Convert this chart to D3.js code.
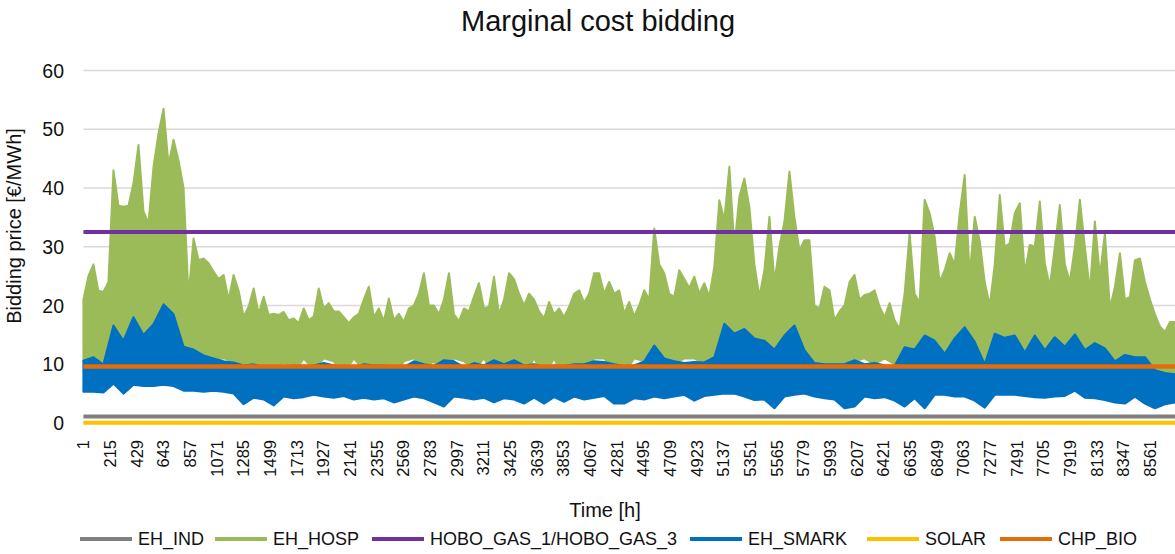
<!DOCTYPE html>
<html>
<head>
<meta charset="utf-8">
<script src="https://cdn.jsdelivr.net/npm/d3@7"></script>
<style>
body { margin: 0; background: #fff; }
text { font-family: "Liberation Sans", Arial, sans-serif; fill: #111; }
</style>
</head>
<body>
<div id="chart"></div>
<script>
const WIDTH = 1175;
const HEIGHT = 554;
const HOURS = 8760;

// category labels on the time axis (every 214th hour)
const tickHours = [1, 215, 429, 643, 857, 1071, 1285, 1499, 1713, 1927, 2141, 2355, 2569, 2783,
    2997, 3211, 3425, 3639, 3853, 4067, 4281, 4495, 4709, 4923, 5137, 5351, 5565, 5779, 5993,
    6207, 6421, 6635, 6849, 7063, 7277, 7491, 7705, 7919, 8133, 8347, 8561];
const yTicks = [0, 10, 20, 30, 40, 50, 60];

const hospHigh = [21, 25, 27, 22.5, 22.3, 24, 43, 37, 36.8, 37,
    40.8, 47.3, 36, 34, 43.6, 49.3, 53.5, 44, 48.2, 44.7,
    40, 21.5, 31.4, 27.7, 28, 27.2, 25.8, 24.5, 25.2, 21,
    25.2, 22.5, 18.1, 19.8, 22.9, 18.6, 21.5, 18.4, 18.6, 18.4,
    18.9, 17.5, 17.8, 17, 19.5, 17.5, 18.1, 22.9, 19.5, 20.4,
    19, 19, 18, 17, 18, 18.6, 21, 23.2, 18, 19.5,
    17.3, 21.2, 17.5, 18.6, 17.2, 19.5, 20, 22, 25.5, 20,
    20, 18.5, 21, 25.5, 18.5, 17.3, 19.5, 19, 21.5, 23.8,
    19.5, 19.8, 24.9, 18.5, 21, 25.5, 24.5, 22, 20, 22,
    21, 19, 17.8, 20.6, 18.5, 19.5, 18, 19.8, 22, 22.6,
    20.5, 22, 25.5, 25.5, 22, 24, 22, 22.6, 18.6, 20.6,
    18.2, 20, 22.6, 21, 33.1, 27, 25.5, 22, 21.5, 26,
    24.5, 23, 24.9, 22, 23.8, 21.5, 26.6, 37.9, 34.5, 43.6,
    30, 38.5, 41.6, 36.8, 27, 21.5, 26, 35.1, 24, 30,
    34.3, 42.8, 35, 29.4, 31.1, 31.1, 20, 19.5, 23.2, 22.6,
    17.5, 19, 20, 24, 25.2, 21, 21.8, 22, 22.6, 19.8,
    18, 20.4, 17.5, 16, 22, 32.3, 22, 20.5, 38, 35.7,
    31.7, 24, 26, 28.9, 27, 35.7, 42.2, 25, 35.1, 31,
    24, 20, 27, 38.8, 30, 30.6, 35.7, 37.4, 25.5, 30.3,
    30, 37.7, 27.2, 23.2, 30, 37.1, 27, 24, 30, 38,
    30, 22.5, 34.3, 25, 32.3, 19.5, 23.2, 28.9, 21, 21.5,
    27.7, 28, 24, 21, 18.5, 16.4, 15.5, 17.2, 17.2];

const hospLow = [10.5, 11, 10.5, 12.5, 12, 13, 12.5, 12.5, 13, 12.5,
    11.5, 11.5, 11, 11, 11, 10.5, 8.5, 10.5, 9, 7.5,
    10.5, 8.5, 11, 9, 11, 10.5, 8.5, 11, 9, 8,
    10.5, 8, 10.5, 11, 9.5, 10.5, 7.5, 11, 10.5, 9,
    11, 8, 7.5, 10.5, 8, 11, 8, 11, 7.5, 10.5,
    7.5, 11, 11, 9, 8.5, 11, 10.5, 12, 11, 10,
    11, 11, 10, 11, 11.5, 12, 11.5, 8, 10, 10.5,
    11.5, 10.5, 11, 9.5, 9, 7.8, 9.5, 10.5, 11, 10,
    11, 10, 8.5, 10.5, 9.5, 11, 11, 11, 10.5, 9,
    7.8, 11, 11, 11, 9.5, 10, 10, 11, 10.5, 11,
    7.5, 10, 10, 8.5, 10, 10, 8, 7.5, 8, 8];
const smarkHigh = [10.6, 11.2, 10, 16.6, 14, 18, 15, 16.8, 20.2, 18.5,
    13, 12.5, 11.5, 11, 10.5, 10.3, 9.8, 10, 9.5, 9.6,
    9.3, 9.8, 9.5, 9.8, 10.2, 9.8, 9.5, 9.3, 10, 9.8,
    9.8, 9.6, 9.5, 10.5, 10, 9.7, 10.7, 10.5, 9.5, 10.2,
    9.8, 10.7, 10, 10.7, 9.8, 10, 9.5, 9.8, 9.7, 10,
    10, 10.5, 10.4, 10, 9.7, 9.8, 10.5, 13.2, 11, 10.5,
    10.2, 10.4, 10.3, 11.2, 16.9, 15.2, 16, 14.4, 14, 12.5,
    14.9, 16.6, 12.4, 10.2, 10, 10, 10, 10.7, 10, 10.2,
    9.8, 9.7, 12.9, 12.5, 14.9, 14, 11.8, 14.4, 16.3, 13.8,
    10, 15.2, 14.5, 14.9, 12, 14.9, 12.4, 14.6, 13, 15.1,
    12.4, 13.6, 12.7, 10.5, 11.6, 11.2, 11.2, 9, 8.5, 8.3];
const smarkLow = [5.3, 5.3, 5.2, 6.7, 5, 6.5, 6.3, 6.3, 6.5, 6.3,
    5.5, 5.5, 5.3, 5.5, 5.3, 5, 3.2, 4.3, 4, 3,
    4.5, 4.2, 4.4, 4.8, 4.5, 4.3, 4.6, 4, 4.3, 4,
    4.2, 3.5, 4, 4.5, 4.2, 3.5, 2.8, 4.5, 4.3, 4,
    4.3, 3.5, 4.2, 4, 3.3, 4.3, 3.3, 4.4, 3.6, 4.5,
    4, 4.3, 4.6, 3.3, 3.3, 4.2, 4, 4.5, 4.2, 4.5,
    4.8, 3.8, 4.6, 4.8, 5, 5, 4.5, 3.9, 4, 2.5,
    4.5, 4.8, 5, 4.5, 4.2, 4, 2.5, 2.8, 4.5, 4.2,
    4.4, 3.8, 2.8, 4.2, 2.5, 4.8, 4.8, 4.5, 4.5, 3.8,
    2.6, 4.8, 4.8, 4.8, 4.6, 4.4, 4.3, 4.5, 4.6, 5.5,
    4.3, 4.2, 3.9, 3.5, 3.3, 4.5, 3.3, 2.5, 3.2, 3.5];

// constant bids
const indPrice = 1.1;
const hoboPrice = 32.5;
const solarPrice = 0.05;
const bioPrice = 9.6;

const seriesNames = ["EH_IND", "EH_HOSP", "HOBO_GAS_1/HOBO_GAS_3", "EH_SMARK", "SOLAR", "CHP_BIO"];
const seriesColors = ["#7f7f7f", "#9bbb59", "#7030a0", "#0070c0", "#ffc000", "#e46c0a"];
const legendX = [80, 215, 372, 690, 867, 1000];

var svg = d3.select("#chart")
    .append("svg")
    .attr("width", WIDTH)
    .attr("height", HEIGHT)

const x = d3.scaleLinear().domain([1, HOURS]).range([83.4, 1175]);
const y = d3.scaleLinear().domain([0, 60]).range([423, 70.5]);

// hour at the centre of bin i when the year is split in n bins
const binHour = (i, n) => 1 + i * (HOURS - 1) / (n - 1);

// gridlines
svg.append("g")
    .selectAll("line")
    .data(yTicks)
    .join("line")
    .attr("x1", x(1))
    .attr("x2", x(HOURS))
    .attr("y1", d => y(d))
    .attr("y2", d => y(d))
    .style("stroke", "#d9d9d9")
    .style("stroke-width", 1.5)

// y axis labels
svg.append("g")
    .selectAll("text")
    .data(yTicks)
    .join("text")
    .attr("x", 64)
    .attr("y", d => y(d))
    .attr("dy", "0.36em")
    .attr("text-anchor", "end")
    .attr("font-size", 19.5)
    .text(d => d)

// x axis category labels, rotated
svg.append("g")
    .selectAll("text")
    .data(tickHours)
    .join("text")
    .attr("transform", d => `translate(${x(d)},440) rotate(-90)`)
    .attr("dy", "0.36em")
    .attr("text-anchor", "end")
    .attr("font-size", 16.5)
    .text(d => d)

const line = d3.line().x(d => x(d[0])).y(d => y(d[1]));

function drawFlat(value, color, width) {
    svg.append("path")
        .attr("d", line([[1, value], [HOURS, value]]))
        .style("fill", "none")
        .style("stroke", color)
        .style("stroke-width", width)
}

// filled band: peaks along the top, troughs back along the bottom
function drawBand(high, low, color) {
    const top = high.map((v, i) => [binHour(i, high.length), v]);
    const bottom = low.map((v, i) => [binHour(i, low.length), v]).reverse();
    svg.append("path")
        .attr("d", line(top.concat(bottom)) + "Z")
        .style("fill", color)
        .style("stroke", color)
        .style("stroke-width", 2)
        .style("stroke-linejoin", "round")
}

// series in legend order
drawFlat(indPrice, seriesColors[0], 4);
drawBand(hospHigh, hospLow, seriesColors[1]);
drawFlat(hoboPrice, seriesColors[2], 4);
drawBand(smarkHigh, smarkLow, seriesColors[3]);
drawFlat(solarPrice, seriesColors[4], 4);
drawFlat(bioPrice, seriesColors[5], 4.5);

// titles
svg.append("text")
    .attr("x", 598)
    .attr("y", 31)
    .attr("text-anchor", "middle")
    .attr("font-size", 29)
    .text("Marginal cost bidding")

svg.append("text")
    .attr("x", 605)
    .attr("y", 517)
    .attr("text-anchor", "middle")
    .attr("font-size", 20)
    .text("Time [h]")

svg.append("text")
    .attr("transform", "translate(14,226) rotate(-90)")
    .attr("dy", "0.36em")
    .attr("text-anchor", "middle")
    .attr("font-size", 20)
    .text("Bidding price [€/MWh]")

// legend
var legend = svg.append("g")
    .selectAll("g")
    .data(seriesNames)
    .join("g")
    .attr("transform", (d, i) => `translate(${legendX[i]},539)`)

legend.append("line")
    .attr("x1", 0)
    .attr("x2", 52)
    .style("stroke", (d, i) => seriesColors[i])
    .style("stroke-width", 4)

legend.append("text")
    .attr("x", 58)
    .attr("dy", "0.36em")
    .attr("font-size", 18)
    .text(d => d)
</script>
</body>
</html>
